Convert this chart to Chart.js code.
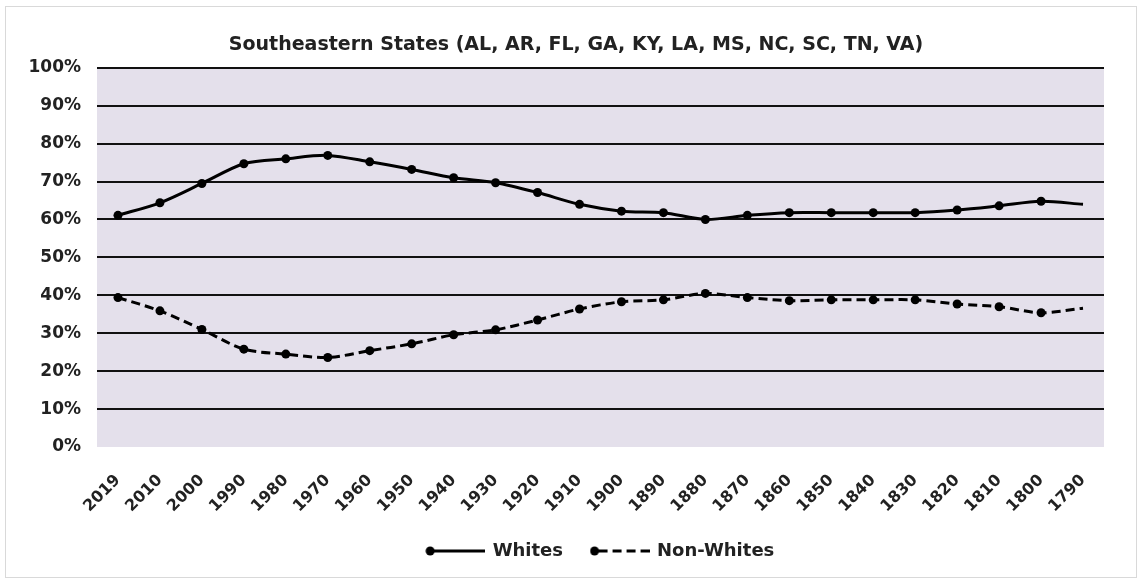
<!DOCTYPE html>
<html>
<head>
<meta charset="utf-8">
<script src="https://cdn.jsdelivr.net/npm/chart.js@4.4.1/dist/chart.umd.min.js"></script>
<style>
  html, body { margin:0; padding:0; background:#fff; }
  #wrap { position:absolute; left:5px; top:6px; width:1132px; height:572px; border:1px solid #d9d9d9; box-sizing:border-box; }
  #box { position:absolute; left:0; top:0; width:1142px; height:583px; }
</style>
</head>
<body>
<div id="wrap"></div>
<div id="box"><canvas id="chart"></canvas></div>
<script>
const years = ["2019","2010","2000","1990","1980","1970","1960","1950","1940","1930","1920","1910",
  "1900","1890","1880","1870","1860","1850","1840","1830","1820","1810","1800","1790"];
const whites = [61.1,64.4,69.5,74.7,76.0,76.9,75.2,73.2,71.0,69.7,67.1,64.0,
  62.2,61.8,60.0,61.1,61.8,61.8,61.8,61.8,62.5,63.6,64.8,64.0];
const nonWhites = [39.4,35.9,31.0,25.8,24.5,23.6,25.4,27.2,29.6,30.9,33.5,36.4,
  38.3,38.8,40.5,39.4,38.6,38.8,38.8,38.8,37.7,37.0,35.4,36.6];
const titleText = "Southeastern States (AL, AR, FL, GA, KY, LA, MS, NC, SC, TN, VA)";

const FONT = "'DejaVu Sans', sans-serif";

/* legend swatch: line with dot at the left end */
function swatch(dashed) {
  const c = document.createElement("canvas");
  c.width = 60; c.height = 12;
  const g = c.getContext("2d");
  g.strokeStyle = "#000"; g.lineWidth = 3;
  if (dashed) {
    g.setLineDash([9, 5]);
    g.beginPath(); g.moveTo(9, 6); g.lineTo(60, 6); g.stroke();
  } else {
    g.beginPath(); g.moveTo(4, 6); g.lineTo(60, 6); g.stroke();
  }
  g.fillStyle = "#000";
  g.beginPath(); g.arc(5, 6, 4.5, 0, Math.PI * 2); g.fill();
  return c;
}
const swatches = [swatch(false), swatch(true)];

const plotBg = {
  id: "plotBg",
  beforeDraw(chart) {
    const a = chart.chartArea, ctx = chart.ctx;
    ctx.save();
    ctx.fillStyle = "#e4e0eb";
    ctx.fillRect(a.left, a.top, a.right - a.left, a.bottom - a.top);
    ctx.restore();
  }
};

const radii = years.map((y, i) => i === years.length - 1 ? 0 : 4.5);

new Chart(document.getElementById("chart"), {
  type: "line",
  data: {
    labels: years,
    datasets: [{
      label: "Whites",
      data: whites,
      borderColor: "#000",
      backgroundColor: "#000",
      borderWidth: 3,
      pointRadius: radii,
      pointHoverRadius: radii,
      pointBorderWidth: 0,
      pointStyle: "circle",
      tension: 0.3
    }, {
      label: "Non-Whites",
      data: nonWhites,
      borderColor: "#000",
      backgroundColor: "#000",
      borderWidth: 3,
      borderDash: [9, 5],
      pointRadius: radii,
      pointHoverRadius: radii,
      pointBorderWidth: 0,
      pointStyle: "circle",
      tension: 0.3
    }]
  },
  options: {
    responsive: true,
    maintainAspectRatio: false,
    animation: false,
    layout: { padding: { left: 28, right: 18, top: 0, bottom: 13 } },
    plugins: {
      title: {
        display: true,
        text: titleText,
        color: "#222",
        font: { family: FONT, size: 19, weight: "bold" },
        padding: { top: 34, bottom: 11 }
      },
      legend: {
        position: "bottom",
        fullSize: false,
        labels: {
          usePointStyle: true,
          pointStyleWidth: 57,
          boxHeight: 12,
          color: "#222",
          padding: 28,
          font: { family: FONT, size: 18, weight: "bold" },
          generateLabels(chart) {
            return chart.data.datasets.map((ds, i) => ({
              text: ds.label,
              pointStyle: swatches[i],
              fillStyle: "#000",
              strokeStyle: "#000",
              lineWidth: 0,
              hidden: false,
              datasetIndex: i,
              fontColor: "#222"
            }));
          }
        }
      },
      tooltip: { enabled: false }
    },
    scales: {
      x: {
        offset: true,
        grid: { display: false, drawTicks: false },
        border: { display: false },
        ticks: {
          minRotation: 45, maxRotation: 45, padding: 24,
          color: "#222",
          font: { family: FONT, size: 16, weight: "bold" }
        },
        afterFit(s) { s.height = 67; }
      },
      y: {
        min: 0, max: 100,
        grid: {
          drawTicks: false,
          lineWidth: 2,
          color: ctx => ctx.tick && ctx.tick.value === 0 ? "rgba(0,0,0,0)" : "#111"
        },
        border: { display: false },
        ticks: {
          stepSize: 10, padding: 16,
          color: "#222",
          font: { family: FONT, size: 17, weight: "bold" },
          callback: v => v + "%"
        },
        afterFit(s) { s.width = 69; }
      },
      // empty spacer on the right so the title sits where the original has it
      yRight: {
        position: "right",
        grid: { display: false, drawTicks: false },
        border: { display: false },
        ticks: { display: false },
        afterFit(s) { s.width = 20; }
      }
    }
  },
  plugins: [plotBg]
});
</script>
</body>
</html>
